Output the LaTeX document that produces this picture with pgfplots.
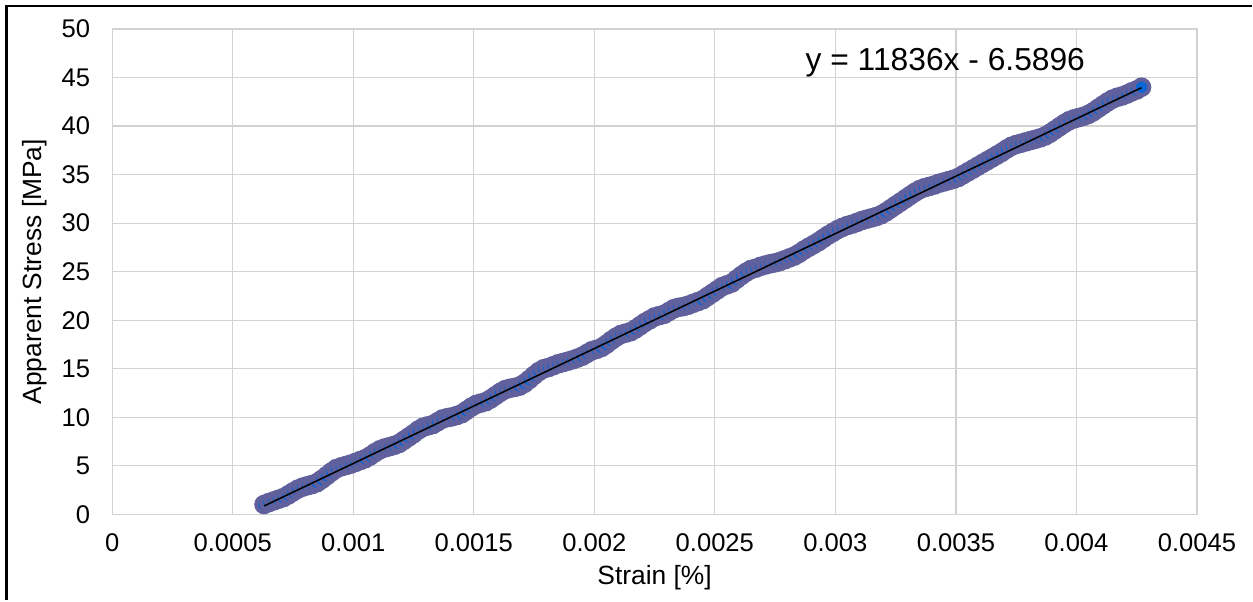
\documentclass[border=0pt]{standalone}
\usepackage{fontspec}
\setmainfont{Liberation Sans}
\usepackage{pgfplots}
\usepackage{pgfplotstable}
\pgfplotsset{compat=1.18}

\definecolor{gridgray}{RGB}{210,210,210}
\definecolor{mfill}{RGB}{12,102,212}
\definecolor{mdraw}{RGB}{96,96,156}

% strain [-] vs apparent stress [MPa]
\pgfplotstableread{
x y
0.00063 1.02
0.00065 1.22
0.00067 1.39
0.00069 1.56
0.00071 1.73
0.00073 2.00
0.00075 2.31
0.00077 2.60
0.00079 2.81
0.00081 2.95
0.00083 3.08
0.00085 3.27
0.00087 3.61
0.00089 3.99
0.00091 4.38
0.00093 4.72
0.00095 4.90
0.00097 5.04
0.00099 5.18
0.00101 5.36
0.00103 5.55
0.00105 5.74
0.00107 6.02
0.00109 6.36
0.00111 6.65
0.00113 6.84
0.00115 6.97
0.00117 7.11
0.00119 7.30
0.00121 7.63
0.00123 7.97
0.00125 8.31
0.00127 8.69
0.00129 8.98
0.00131 9.12
0.00133 9.25
0.00135 9.54
0.00137 9.83
0.00139 9.96
0.00141 10.05
0.00143 10.19
0.00145 10.37
0.00147 10.71
0.00149 11.05
0.00151 11.33
0.00153 11.47
0.00155 11.61
0.00157 11.89
0.00159 12.23
0.00161 12.57
0.00163 12.85
0.00165 12.99
0.00167 13.08
0.00169 13.21
0.00171 13.50
0.00173 13.89
0.00175 14.32
0.00177 14.71
0.00179 15.00
0.00181 15.13
0.00183 15.32
0.00185 15.51
0.00187 15.64
0.00189 15.78
0.00191 15.92
0.00193 16.10
0.00195 16.29
0.00197 16.58
0.00199 16.86
0.00201 17.00
0.00203 17.19
0.00205 17.52
0.00207 17.91
0.00209 18.25
0.00211 18.53
0.00213 18.67
0.00215 18.81
0.00217 19.09
0.00219 19.43
0.00221 19.77
0.00223 20.05
0.00225 20.34
0.00227 20.48
0.00229 20.61
0.00231 20.90
0.00233 21.19
0.00235 21.33
0.00237 21.41
0.00239 21.55
0.00241 21.74
0.00243 21.92
0.00245 22.11
0.00247 22.45
0.00249 22.78
0.00251 23.12
0.00253 23.46
0.00255 23.64
0.00257 23.83
0.00259 24.22
0.00261 24.60
0.00263 24.94
0.00265 25.23
0.00267 25.36
0.00269 25.55
0.00271 25.69
0.00273 25.82
0.00275 25.91
0.00277 26.05
0.00279 26.23
0.00281 26.42
0.00283 26.61
0.00285 26.89
0.00287 27.23
0.00289 27.52
0.00291 27.80
0.00293 28.09
0.00295 28.43
0.00297 28.76
0.00299 29.05
0.00301 29.34
0.00303 29.57
0.00305 29.76
0.00307 29.90
0.00309 30.08
0.00311 30.27
0.00313 30.41
0.00315 30.54
0.00317 30.68
0.00319 30.87
0.00321 31.15
0.00323 31.49
0.00325 31.83
0.00327 32.16
0.00329 32.50
0.00331 32.84
0.00333 33.17
0.00335 33.46
0.00337 33.65
0.00339 33.78
0.00341 33.92
0.00343 34.11
0.00345 34.24
0.00347 34.38
0.00349 34.52
0.00351 34.70
0.00353 34.99
0.00355 35.28
0.00357 35.56
0.00359 35.85
0.00361 36.14
0.00363 36.43
0.00365 36.71
0.00367 37.00
0.00369 37.29
0.00371 37.62
0.00373 37.91
0.00375 38.10
0.00377 38.23
0.00379 38.37
0.00381 38.51
0.00383 38.64
0.00385 38.78
0.00387 38.97
0.00389 39.25
0.00391 39.59
0.00393 39.93
0.00395 40.26
0.00397 40.55
0.00399 40.74
0.00401 40.87
0.00403 41.01
0.00405 41.20
0.00407 41.48
0.00409 41.82
0.00411 42.16
0.00413 42.49
0.00415 42.78
0.00417 42.97
0.00419 43.10
0.00421 43.29
0.00423 43.53
0.00425 43.71
0.00427 44.00
}\stressdata

\begin{document}
\begin{tikzpicture}
\path (0,0) rectangle (626.5pt,300.5pt);
\begin{axis}[
    set layers,
    at={(56.15pt,43pt)}, anchor=south west,
    scale only axis,
    width=543pt, height=243pt,
    xmin=0, xmax=0.0045,
    ymin=0, ymax=50,
    scaled x ticks=false,
    xtick={0,0.0005,0.001,0.0015,0.002,0.0025,0.003,0.0035,0.004,0.0045},
    xticklabels={0,0.0005,0.001,0.0015,0.002,0.0025,0.003,0.0035,0.004,0.0045},
    ytick={0,5,...,50},
    major tick length=0pt,
    grid=major,
    major grid style={gridgray, line width=0.6pt},
    axis line style={gridgray, line width=0.6pt},
    /pgf/number format/assume math mode=true,
    ticklabel style={font=\fontsize{12.8}{15}\selectfont},
    xticklabel style={yshift=-6pt},
    yticklabel style={xshift=-7.5pt},
    xlabel={Strain [\%]},
    ylabel={Apparent Stress [MPa]},
    label style={font=\fontsize{13.2}{15}\selectfont},
    xlabel style={at={(axis description cs:0.5,-0.131)}, anchor=center},
    ylabel style={at={(axis description cs:-0.071,0.5)}, anchor=center},
]
\addplot[only marks, mark=*, mark size=3.9pt,
    mark options={fill=mfill, draw=mdraw, line width=2pt}]
    table[x=x, y=y] {\stressdata};
\addplot[on layer=axis foreground, black, line width=0.75pt]
    coordinates {(0.00063,0.8671) (0.00427,43.9501)};
\node[font=\fontsize{15.9}{18}\selectfont, anchor=center]
    at (axis cs:0.003456,46.5) {y = 11836x - 6.5896};
\end{axis}
\draw[black, line width=1.4pt] (3.25pt,0pt) -- (3.25pt,297.5pt) -- (626.5pt,297.5pt);
\end{tikzpicture}
\end{document}
